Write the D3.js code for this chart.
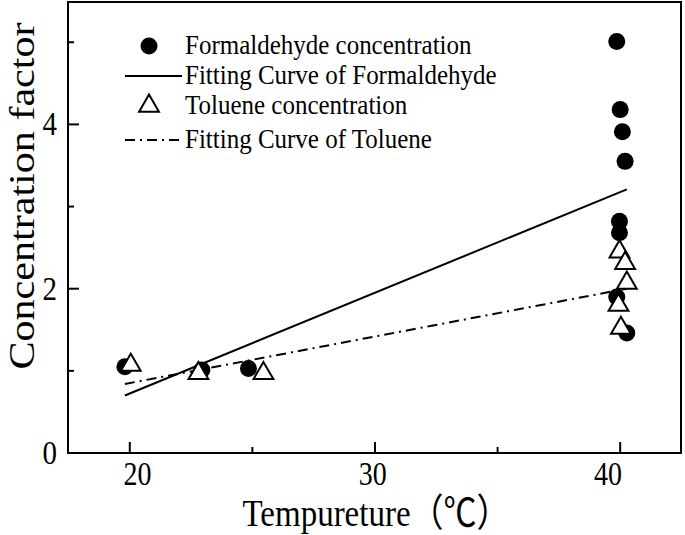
<!DOCTYPE html>
<html>
<head>
<meta charset="utf-8">
<script src="https://cdn.jsdelivr.net/npm/d3@7"></script>
<style>
  body { margin: 0; background: #fff; }
  svg text { font-family: "Liberation Serif", "Noto Sans CJK SC", serif; fill: #000; }
</style>
</head>
<body>
<svg id="chart" width="685" height="535"></svg>
<script>
// values
var formX = [19.8, 22.94, 24.84, 39.86, 40.0, 40.09, 40.2, 39.97, 39.97, 39.86, 40.27];
var formY = [1.05, 1.01, 1.03, 5.01, 4.18, 3.91, 3.55, 2.82, 2.68, 1.90, 1.46];
var tolX = [20.04, 22.8, 25.45, 39.97, 40.2, 40.27, 39.93, 40.03];
var tolY = [1.07, 0.97, 0.97, 2.45, 2.31, 2.07, 1.80, 1.52];
var fitFormX = [19.8, 40.27];
var fitFormY = [0.70, 3.21];
var fitTolX = [19.8, 40.27];
var fitTolY = [0.84, 2.0];
var xTicks = [20, 30, 40];
var yTicks = [0, 2, 4];
var legendLabels = ["Formaldehyde concentration", "Fitting Curve of Formaldehyde",
                    "Toluene concentration", "Fitting Curve of Toluene"];

var svg = d3.select("#chart");
var mLeft = 68, mRight = 681, mTop = 2, mBottom = 453;
var stretch = 1.17; // the text in the picture is a bit tall

var x = d3.scaleLinear().domain([17.48, 42.48]).range([mLeft, mRight]);
var y = d3.scaleLinear().domain([0, 5.49]).range([mBottom, mTop]);
// the tick labels sit slightly off their ticks in the original
var xLab = d3.scaleLinear().domain([20, 40]).range([137.5, 608]);

function tallText(sel, tx, ty, k)
{
    k = k || stretch;
    return sel.attr("transform", function(d, i)
    {
        var px = typeof tx === "function" ? tx(d, i) : tx;
        var py = typeof ty === "function" ? ty(d, i) : ty;
        return "translate(" + px + "," + py + ") scale(1," + k + ")";
    });
}

// frame
svg.append("rect")
    .attr("x", mLeft).attr("y", mTop)
    .attr("width", mRight - mLeft).attr("height", mBottom - mTop)
    .attr("fill", "none").attr("stroke", "#000").attr("stroke-width", 2);

// x axis, inward ticks
var xAxis = svg.append("g");
xAxis.selectAll("line.minor")
    .data([25, 35])
    .enter().append("line")
    .attr("x1", function(d) { return x(d); }).attr("x2", function(d) { return x(d); })
    .attr("y1", mBottom).attr("y2", mBottom - 6)
    .attr("stroke", "#000").attr("stroke-width", 2);
xAxis.selectAll("line.major")
    .data(xTicks)
    .enter().append("line")
    .attr("x1", function(d) { return x(d); }).attr("x2", function(d) { return x(d); })
    .attr("y1", mBottom).attr("y2", mBottom - 11)
    .attr("stroke", "#000").attr("stroke-width", 2);
tallText(xAxis.selectAll("text")
    .data(xTicks)
    .enter().append("text")
    .attr("text-anchor", "middle")
    .style("font-size", "28px")
    .text(function(d) { return d; }), function(d) { return xLab(d); }, 485);

// y axis, inward ticks
var yAxis = svg.append("g");
yAxis.selectAll("line.minor")
    .data([1, 3, 5])
    .enter().append("line")
    .attr("y1", function(d) { return y(d); }).attr("y2", function(d) { return y(d); })
    .attr("x1", mLeft).attr("x2", mLeft + 6)
    .attr("stroke", "#000").attr("stroke-width", 2);
yAxis.selectAll("line.major")
    .data(yTicks)
    .enter().append("line")
    .attr("y1", function(d) { return y(d); }).attr("y2", function(d) { return y(d); })
    .attr("x1", mLeft).attr("x2", mLeft + 11)
    .attr("stroke", "#000").attr("stroke-width", 2);
tallText(yAxis.selectAll("text")
    .data(yTicks)
    .enter().append("text")
    .attr("text-anchor", "end")
    .style("font-size", "29px")
    .text(function(d) { return d; }), mLeft - 11, function(d) { return y(d) + 11; });

// axis titles
svg.append("text")
    .attr("transform", "translate(34,196) rotate(-90) scale(" + stretch + ",1)")
    .attr("text-anchor", "middle")
    .style("font-size", "36px")
    .text("Concentration factor");
tallText(svg.append("text")
    .attr("text-anchor", "middle")
    .style("font-size", "33px")
    .text("Tempureture（℃）"), 376, 526);

// fitting lines
var line = d3.line()
    .x(function(d) { return x(d[0]); })
    .y(function(d) { return y(d[1]); });

svg.append("path")
    .attr("d", line(d3.zip(fitFormX, fitFormY)))
    .attr("fill", "none").attr("stroke", "#000").attr("stroke-width", 2);
svg.append("path")
    .attr("d", line(d3.zip(fitTolX, fitTolY)))
    .attr("fill", "none").attr("stroke", "#000").attr("stroke-width", 2)
    .attr("stroke-dasharray", "10,5,2,5");

// markers
var tri = d3.symbol().type(d3.symbolTriangle).size(170);

svg.append("g").selectAll("circle")
    .data(d3.zip(formX, formY))
    .enter().append("circle")
    .attr("cx", function(d) { return x(d[0]); })
    .attr("cy", function(d) { return y(d[1]); })
    .attr("r", 8.5)
    .attr("fill", "#000");

svg.append("g").selectAll("path")
    .data(d3.zip(tolX, tolY))
    .enter().append("path")
    .attr("d", tri)
    .attr("transform", function(d) { return "translate(" + x(d[0]) + "," + y(d[1]) + ")"; })
    .attr("fill", "#fff").attr("stroke", "#000").attr("stroke-width", 2);

// legend
var legend = svg.append("g");
var rowY = [46, 76, 106, 140];
var keyX = 149;

tallText(legend.selectAll("text")
    .data(legendLabels)
    .enter().append("text")
    .style("font-size", "25px")
    .text(function(d) { return d; }), 185, function(d, i) { return rowY[i] + 8; }, 1.08);

legend.append("circle").attr("cx", keyX).attr("cy", rowY[0]).attr("r", 8.5).attr("fill", "#000");
legend.append("line")
    .attr("x1", 125).attr("x2", 182).attr("y1", rowY[1]).attr("y2", rowY[1])
    .attr("stroke", "#000").attr("stroke-width", 2);
legend.append("path")
    .attr("d", tri)
    .attr("transform", "translate(" + keyX + "," + rowY[2] + ")")
    .attr("fill", "#fff").attr("stroke", "#000").attr("stroke-width", 2);
legend.append("line")
    .attr("x1", 125).attr("x2", 182).attr("y1", rowY[3]).attr("y2", rowY[3])
    .attr("stroke", "#000").attr("stroke-width", 2)
    .attr("stroke-dasharray", "10,5,2,5");
</script>
</body>
</html>
